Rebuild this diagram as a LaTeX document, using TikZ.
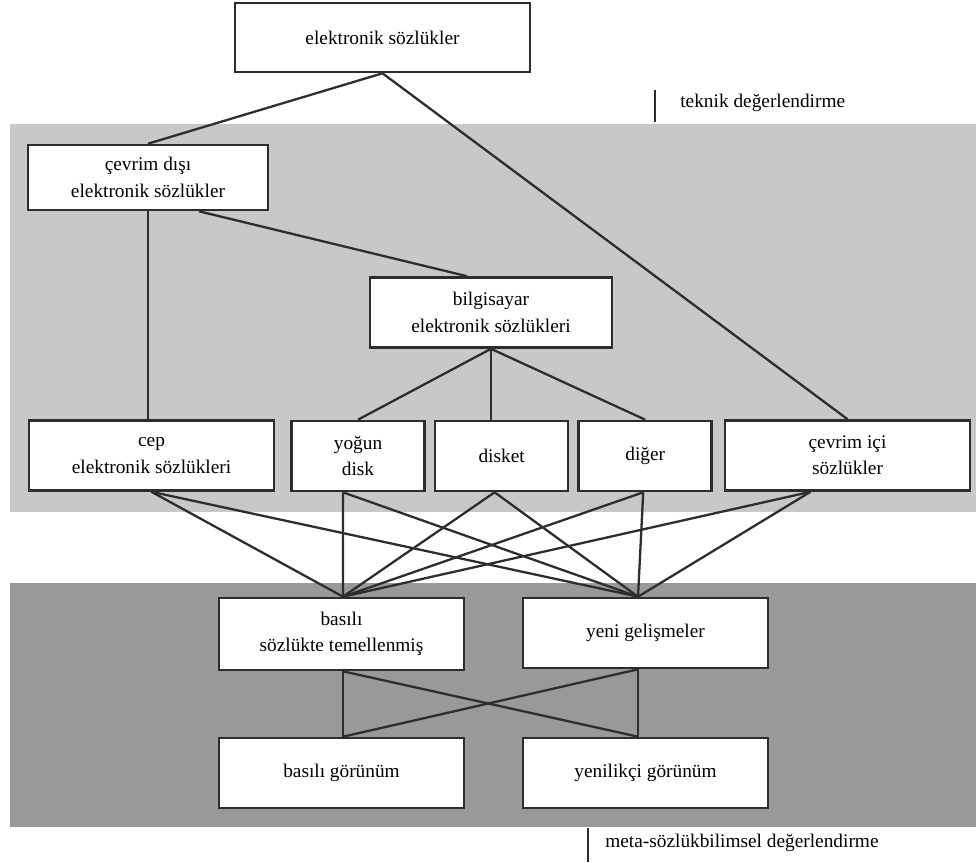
\documentclass[tikz,border=0pt]{standalone}
\usepackage{fontspec}
\setmainfont{Liberation Serif}
\usepackage{xcolor}
\usepackage{tikz}
\usetikzlibrary{positioning, calc}
\definecolor{bandlight}{RGB}{200, 200, 200}
\definecolor{banddark}{RGB}{153, 153, 153}
\definecolor{edge}{RGB}{45, 45, 45}
\tikzset{
    box/.style = {rectangle, draw=edge, fill=white, line width=1.5pt, align=center, inner sep=2pt, minimum height=1.4cm, font=\fontsize{11}{15}\selectfont},
    widebox/.style = {box, minimum width=4.9cm},
    smallbox/.style = {box, minimum width=2.66cm},
    line/.style = {draw=edge, line width=1.3pt},
    note/.style = {anchor=west, inner sep=0pt, font=\fontsize{11}{15}\selectfont}
}
\begin{document}
\begin{tikzpicture}[x=0.02cm, y=-0.02cm]
\useasboundingbox (0,0) rectangle (976,862);
% background bands
\fill[bandlight] (10,124) rectangle (976,512);
\fill[banddark] (10,583) rectangle (976,827);

\node (elek) [box, minimum width=5.9cm, minimum height=1.38cm] at (382.5,37.5) {elektronik sözlükler};
\node (cdisi) [box, minimum width=4.8cm, minimum height=1.3cm] at (148,177.5) {çevrim dışı\\ elektronik sözlükler};
\node (bilg) [box, minimum width=4.84cm] at (491,312.5) {bilgisayar\\ elektronik sözlükleri};
\node (cep) [widebox] at (151.5,455.5) {cep\\ elektronik sözlükleri};
\node (yogun) [smallbox] at (358,456) {yoğun\\ disk};
\node (disket) [smallbox, right=0.16cm of yogun] {disket};
\node (diger) [smallbox, right=0.16cm of disket] {diğer};
\node (cici) [widebox] at (847.5,455.5) {çevrim içi\\ sözlükler};
\node (basili) [widebox, minimum height=1.44cm] at (341.5,634) {basılı\\ sözlükte temellenmiş};
\node (yeni) [widebox] at (645.5,633) {yeni gelişmeler};
\node (bgor) [widebox] at (341.5,773) {basılı görünüm};
\node (ygor) [widebox] at (645.5,773) {yenilikçi görünüm};

\node (teknik) [note] at (680,103) {teknik değerlendirme};
\node (meta) [note] at (605,843) {meta-sözlükbilimsel değerlendirme};
\draw[line, line width=1pt] (655,90) -- (655,122);
\draw[line, line width=1pt] (588,828) -- (588,862);

% hub points
\coordinate (hubA) at ($(basili.north)+(1.5,0)$);
\coordinate (hubB) at ($(yeni.north)+(-7.5,0)$);
\coordinate (hubC) at ($(basili.south)+(1.5,0)$);
\coordinate (hubD) at ($(yeni.south)+(-7.5,0)$);

\draw [line] (elek.south) -- (cdisi.north);
\draw [line] (elek.south) -- (cici.north);
\draw [line] (cdisi.south) -- (cdisi.south |- cep.north);
\draw [line] ($(cdisi.south)+(51,0)$) -- ($(bilg.north)+(-24,0)$);
\draw [line] (bilg.south) -- (yogun.north);
\draw [line] (bilg.south) -- (bilg.south |- disket.north);
\draw [line] (bilg.south) -- (diger.north);

\foreach \src/\dx in {cep/0, yogun/-15, disket/-7, diger/-2, cici/-37} {
    \draw [line] ($(\src.south)+(\dx,0)$) -- (hubA);
    \draw [line] ($(\src.south)+(\dx,0)$) -- (hubB);
}
\draw [line] (hubC) -- (hubC |- bgor.north);
\draw [line] (hubD) -- (hubD |- ygor.north);
\draw [line] (hubC) -- (hubD |- ygor.north);
\draw [line] (hubD) -- (hubC |- bgor.north);
\end{tikzpicture}
\end{document}
